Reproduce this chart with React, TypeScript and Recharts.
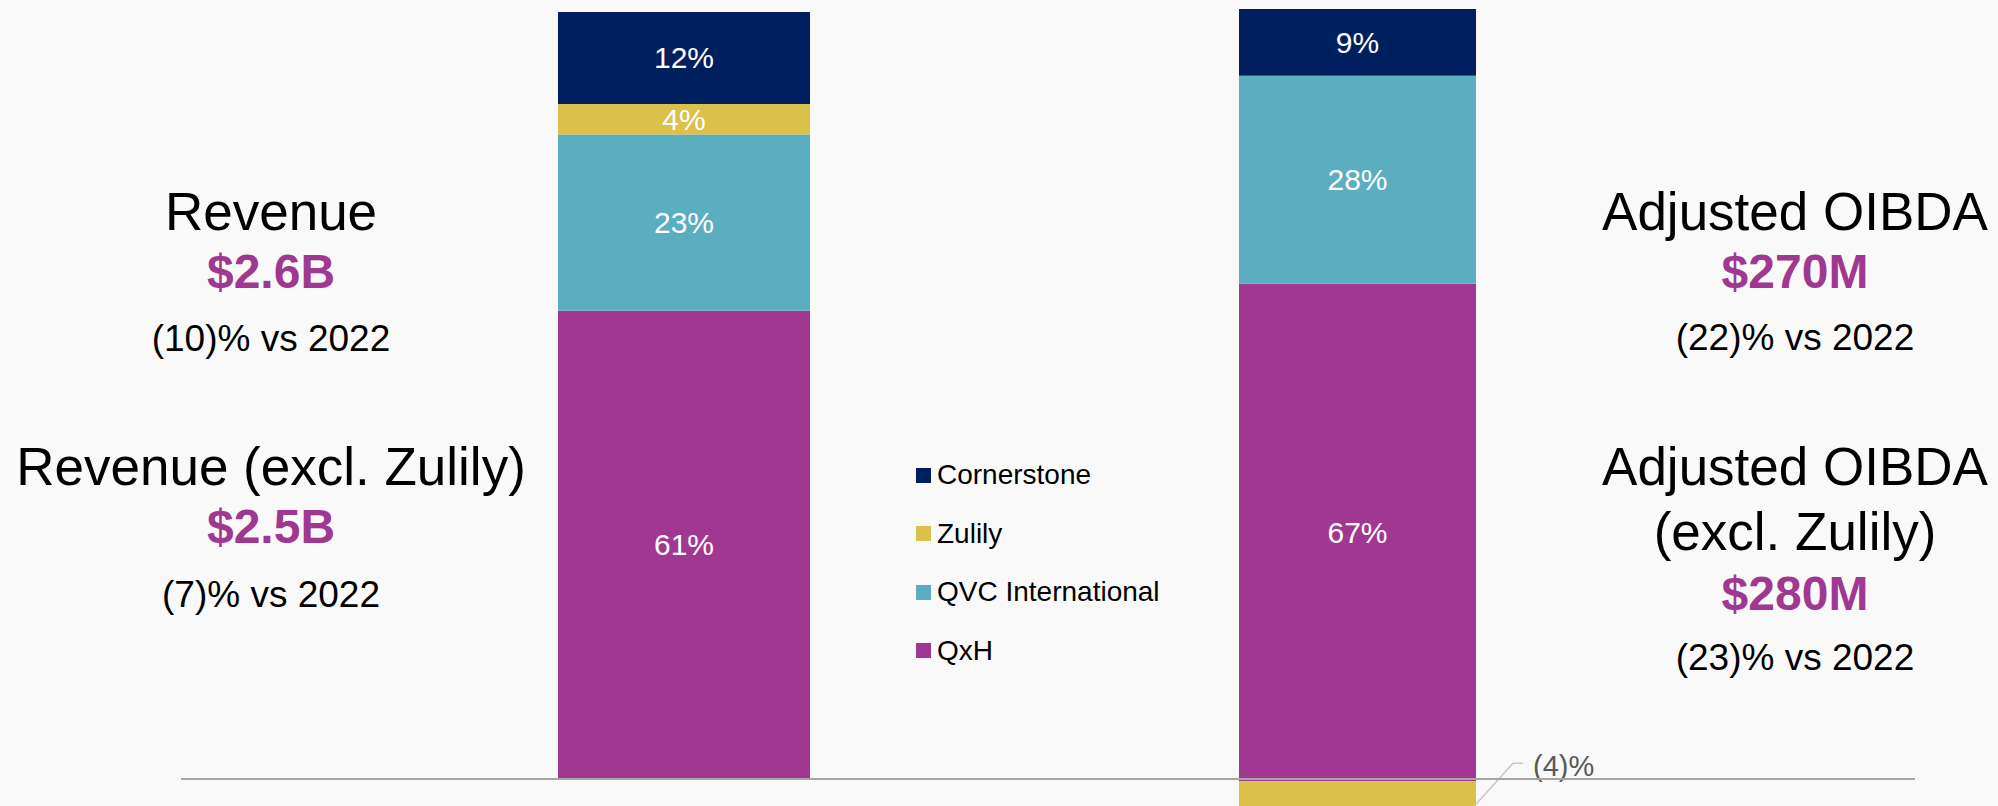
import { Bar, BarChart, LabelList, XAxis, YAxis } from "recharts";

// stack order, bottom to top
const SEGMENTS = ["QxH", "QVC International", "Zulily", "Cornerstone"];
const SEGMENT_COLORS = ["#a03891", "#5baec0", "#dbc04a", "#001f5f"];
const REVENUE_SHARE = [61, 23, 4, 12];
const OIBDA_SHARE = [67, 28, -4, 9];

const REVENUE_LINES = ["Revenue", "$2.6B", "(10)% vs 2022", "Revenue (excl. Zulily)", "$2.5B", "(7)% vs 2022"];
const OIBDA_LINES = [
  "Adjusted OIBDA",
  "$270M",
  "(22)% vs 2022",
  "Adjusted OIBDA",
  "(excl. Zulily)",
  "$280M",
  "(23)% vs 2022",
];

const FONT = "'Liberation Sans', Arial, sans-serif";
const PURPLE = "#a03891";

const toRow = (name: string, values: number[]) => {
  const row: Record<string, string | number> = { name };
  SEGMENTS.forEach((s, i) => {
    row[s] = values[i];
  });
  return row;
};

const fmtPct = (v: number) => (v < 0 ? `(${-v})%` : `${v}%`);

function ValueLabel(props: any) {
  const vb = props.viewBox ?? props;
  const x = Number(vb.x);
  const y = Number(vb.y);
  const w = Number(vb.width);
  const h = Number(vb.height);
  const v = Number(props.value);
  const top = Math.min(y, y + h);
  const bottom = Math.max(y, y + h);
  if (v < 0) {
    // small negative slice: leader line out to the right
    const right = x + w;
    return (
      <g>
        <polyline
          points={`${right},${top + 23} ${right + 37},${top - 18} ${right + 47},${top - 18}`}
          fill="none"
          stroke="#c8c8c8"
          strokeWidth={1.5}
        />
        <text x={right + 57} y={top - 5} fill="#595959" fontSize={29} fontFamily={FONT}>
          {fmtPct(v)}
        </text>
      </g>
    );
  }
  return (
    <text
      x={x + w / 2}
      y={(top + bottom) / 2}
      textAnchor="middle"
      dominantBaseline="central"
      fill="#ffffff"
      fontSize={30}
      fontFamily={FONT}
    >
      {fmtPct(v)}
    </text>
  );
}

function StackedBar({
  name,
  values,
  width,
  height,
  domain,
  rightPad,
}: {
  name: string;
  values: number[];
  width: number;
  height: number;
  domain: [number, number];
  rightPad: number;
}) {
  return (
    <BarChart
      width={width + rightPad}
      height={height}
      data={[toRow(name, values)]}
      margin={{ top: 0, right: rightPad, bottom: 0, left: 0 }}
      barCategoryGap={0}
      stackOffset="sign"
    >
      <XAxis dataKey="name" hide />
      <YAxis hide domain={domain} type="number" allowDataOverflow />
      {SEGMENTS.map((s, i) => (
        <Bar key={s} dataKey={s} stackId="a" fill={SEGMENT_COLORS[i]} isAnimationActive={false}>
          <LabelList dataKey={s} content={ValueLabel} />
        </Bar>
      ))}
    </BarChart>
  );
}

const HEAD = { size: 53, bold: false, color: "#000" };
const BIG = { size: 48, bold: true, color: PURPLE };
const SUB = { size: 37, bold: false, color: "#000" };

export default function App() {
  const legendItems = SEGMENTS.map((s, i) => ({ s, c: SEGMENT_COLORS[i] })).reverse();
  const leftY = [230, 288, 351, 485, 543, 607];
  const leftStyle = [HEAD, BIG, SUB, HEAD, BIG, SUB];
  const rightY = [230, 288, 350, 485, 550, 610, 670];
  const rightStyle = [HEAD, BIG, SUB, HEAD, HEAD, BIG, SUB];

  return (
    <div
      style={{
        position: "absolute",
        left: 0,
        top: 0,
        width: 1998,
        height: 806,
        overflow: "hidden",
        background: "#f9f9f9",
        fontFamily: FONT,
      }}
    >
      <div style={{ position: "absolute", left: 558, top: 12 }}>
        <StackedBar name="Revenue" values={REVENUE_SHARE} width={252} height={766} domain={[0, 100]} rightPad={0} />
      </div>
      <div style={{ position: "absolute", left: 1239, top: 9 }}>
        <StackedBar
          name="Adjusted OIBDA"
          values={OIBDA_SHARE}
          width={237}
          height={802}
          domain={[-4, 104]}
          rightPad={160}
        />
      </div>

      {/* axis baseline */}
      <div style={{ position: "absolute", left: 181, top: 778, width: 1734, height: 2, background: "#a6a6a6" }} />

      {/* legend */}
      {legendItems.map((it, i) => (
        <div
          key={it.s}
          style={{
            position: "absolute",
            left: 916,
            top: 475 + i * 58.5 - 16,
            height: 32,
            display: "flex",
            alignItems: "center",
            fontSize: 28,
            color: "#000",
            whiteSpace: "nowrap",
          }}
        >
          <span style={{ display: "inline-block", width: 15, height: 15, background: it.c, marginRight: 6 }} />
          {it.s}
        </div>
      ))}

      <svg width={1998} height={806} style={{ position: "absolute", left: 0, top: 0, pointerEvents: "none" }}>
        {REVENUE_LINES.map((t, i) => (
          <text
            key={`l${i}`}
            x={271}
            y={leftY[i]}
            textAnchor="middle"
            fontFamily={FONT}
            fontSize={leftStyle[i].size}
            fontWeight={leftStyle[i].bold ? 700 : 400}
            fill={leftStyle[i].color}
          >
            {t}
          </text>
        ))}
        {OIBDA_LINES.map((t, i) => (
          <text
            key={`r${i}`}
            x={1795}
            y={rightY[i]}
            textAnchor="middle"
            fontFamily={FONT}
            fontSize={rightStyle[i].size}
            fontWeight={rightStyle[i].bold ? 700 : 400}
            fill={rightStyle[i].color}
          >
            {t}
          </text>
        ))}
      </svg>
    </div>
  );
}
